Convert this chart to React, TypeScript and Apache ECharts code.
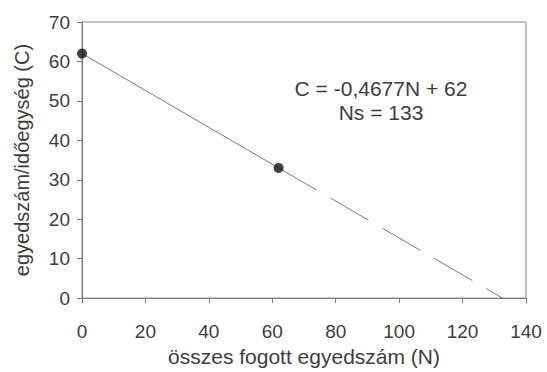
import React, { useEffect, useRef } from "react";
import * as echarts from "echarts";

const xTicks = [0, 20, 40, 60, 80, 100, 120, 140];
const yTicks = [0, 10, 20, 30, 40, 50, 60, 70];
const measuredN = [0, 62];
const measuredC = [62, 33];
const solidN = [0, 62];
const solidC = [62, 33];
const dashedN = [62, 132.6];
const dashedC = [33, 0];
const equationText = "C = -0,4677N + 62";
const nsText = "Ns = 133";
const xName = "összes fogott egyedszám (N)";
const yName = "egyedszám/időegység (C)";

const TEXT = "#3d3d3d";
const LINE = "#7a7a7a";
const FONT = "Liberation Sans, Arial, sans-serif";

export default function App() {
  const ref = useRef<HTMLDivElement>(null);
  useEffect(() => {
    if (!ref.current) return;
    document.body.style.margin = "0";
    const chart = echarts.init(ref.current, null, { renderer: "svg" });
    const pairs = (a: number[], b: number[]) => a.map((v, i) => [v, b[i]]);
    chart.setOption({
      animation: false,
      backgroundColor: "#fff",
      grid: {
        left: 82,
        right: 21,
        top: 22,
        bottom: 69,
        show: true,
        borderColor: "#8a8a8a",
        borderWidth: 1,
      },
      xAxis: {
        type: "value",
        min: xTicks[0],
        max: xTicks[xTicks.length - 1],
        interval: 20,
        name: xName,
        nameLocation: "middle",
        nameGap: 42,
        nameTextStyle: { color: TEXT, fontSize: 21, fontFamily: FONT },
        axisLine: { show: true, lineStyle: { color: LINE, width: 1 } },
        axisTick: { show: true, length: 5, lineStyle: { color: LINE } },
        axisLabel: { color: TEXT, fontSize: 19, fontFamily: FONT, margin: 24 },
        splitLine: { show: false },
      },
      yAxis: {
        type: "value",
        min: yTicks[0],
        max: yTicks[yTicks.length - 1],
        interval: 10,
        name: yName,
        nameLocation: "middle",
        nameGap: 50,
        nameTextStyle: { color: TEXT, fontSize: 20, fontFamily: FONT },
        axisLine: { show: true, lineStyle: { color: LINE, width: 1 } },
        axisTick: { show: true, length: 5, lineStyle: { color: LINE } },
        axisLabel: { color: TEXT, fontSize: 19, fontFamily: FONT, margin: 12 },
        splitLine: { show: false },
      },
      series: [
        {
          type: "line",
          data: pairs(solidN, solidC),
          symbol: "none",
          lineStyle: { color: LINE, width: 1 },
          z: 2,
        },
        {
          type: "line",
          data: pairs(dashedN, dashedC),
          symbol: "none",
          lineStyle: { color: LINE, width: 1, type: [44, 16] },
          z: 2,
        },
        {
          type: "scatter",
          data: pairs(measuredN, measuredC),
          symbolSize: 10,
          itemStyle: { color: "#111" },
          z: 3,
        },
      ],
      graphic: [
        {
          type: "text",
          x: 381,
          y: 88,
          style: {
            text: equationText,
            fill: TEXT,
            fontSize: 21,
            fontFamily: FONT,
            align: "center",
            verticalAlign: "middle",
          },
          silent: true,
        },
        {
          type: "text",
          x: 381,
          y: 112,
          style: {
            text: nsText,
            fill: TEXT,
            fontSize: 21,
            fontFamily: FONT,
            align: "center",
            verticalAlign: "middle",
          },
          silent: true,
        },
      ],
    });
    return () => chart.dispose();
  }, []);
  return <div ref={ref} style={{ width: 547, height: 372 }} />;
}
